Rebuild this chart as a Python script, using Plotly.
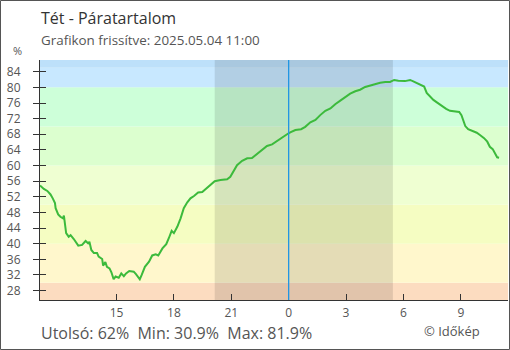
import plotly.graph_objects as go

# ---- data ----
times_prev = ["11:00","11:12","11:23","11:33","11:40","11:47","11:49","11:57","12:04","12:12",
              "12:15","12:18","12:22","12:30","12:36","12:46","13:00","13:12","13:23","13:31",
              "13:35","13:41","13:49","13:59","14:04","14:15","14:18","14:25","14:30","14:38",
              "14:44","14:51","14:57","15:07","15:15","15:23","15:30","15:40","15:54","16:01",
              "16:09","16:13","16:19","16:29","16:42","16:52","17:03","17:11","17:24","17:36",
              "17:44","17:53","18:00","18:11","18:21","18:31","18:42","18:52","19:03","19:16",
              "19:29","19:41","19:55","20:08","20:26","20:47","20:57","21:08","21:18","21:34",
              "21:50","22:05","22:21","22:37","22:52","23:08","23:24","23:39","23:55"]
hum_prev = [54.9,54.0,53.5,52.6,51.6,50.4,49.1,47.5,46.9,46.5,
            47.2,45.2,42.7,41.8,42.2,41.2,39.5,39.7,40.7,40.1,
            40.5,38.4,37.6,37.6,36.7,36.1,34.4,35.3,34.1,33.7,
            32.7,30.9,31.6,31.3,32.4,31.7,32.4,33.0,32.85,32.2,
            31.3,30.9,32.0,34.1,35.4,37.0,37.3,37.0,38.8,39.9,
            41.4,43.3,42.7,44.4,46.5,49.1,50.6,51.6,52.2,53.1,
            53.2,54.0,55.0,56.0,56.3,56.5,57.1,58.8,60.1,61.2,
            61.85,61.9,63.0,64.0,65.0,65.4,66.35,67.2,68.0]
times_next = ["00:05","00:21","00:39","00:52","01:08","01:24","01:39","01:55","02:11","02:26",
              "02:42","02:58","03:13","03:29","03:44","04:00","04:16","04:31","04:47","05:03",
              "05:18","05:31","05:44","06:05","06:21","06:31","06:47","06:52","07:05","07:13",
              "07:24","07:34","07:46","08:00","08:14","08:26","08:42","08:55","09:02","09:08",
              "09:14","09:23","09:37","09:50","10:00","10:13","10:23","10:31","10:40","10:47",
              "10:54","11:00"]
hum_next = [68.5,69.1,69.3,69.9,71.05,71.65,72.9,74.0,74.6,75.7,
            76.6,77.5,78.4,79.0,79.4,80.1,80.5,80.8,81.2,81.4,
            81.4,81.9,81.7,81.6,81.9,81.55,80.9,80.6,80.2,78.6,
            77.6,76.8,76.1,75.2,74.5,74.0,73.9,73.7,72.9,71.65,
            70.1,69.3,68.8,68.4,67.8,67.0,66.1,64.8,64.2,63.1,
            62.1,62.0]

day1, day2 = "2025-05-03", "2025-05-04"
times = [f"{day1} {t}" for t in times_prev] + [f"{day2} {t}" for t in times_next]
humidity = hum_prev + hum_next

tick_vals = [f"{day1} 15:00", f"{day1} 18:00", f"{day1} 21:00", f"{day2} 00:00",
             f"{day2} 03:00", f"{day2} 06:00", f"{day2} 09:00"]
tick_text = ["15", "18", "21", "0", "3", "6", "9"]
y_ticks = list(range(28, 85, 4))

band_edges = [20, 30, 40, 50, 60, 70, 80, 85, 95]
band_colors = ["#fcdcc0", "#fff7cc", "#f5fdc2", "#efffd2", "#dcffcf", "#cdffd9", "#c8e8ff", "#bde0fa"]

night_start, night_end = f"{day1} 20:08", f"{day2} 05:27"
midnight = f"{day2} 00:00"
x_range = [f"{day1} 11:00", f"{day2} 11:28"]
y_range = [25.6, 87]

title = "Tét - Páratartalom"
subtitle = "Grafikon frissítve: 2025.05.04 11:00"
footer = "Utolsó: 62%  Min: 30.9%  Max: 81.9%"
credit = "© Időkép"

# ---- layout geometry ----
W, H = 510, 350
ML, MR, MT, MB = 40, 2, 60, 50
PW, PH = W - ML - MR, H - MT - MB

def px(x):
    return (x - ML) / PW

def py(y):
    return (H - MB - y) / PH

FONT = "Open Sans"

fig = go.Figure()
fig.add_trace(go.Scatter(x=times, y=humidity, mode="lines",
                         line=dict(color="#3cba3c", width=2), hoverinfo="skip",
                         showlegend=False))
fig.add_trace(go.Scatter(x=[times[0]], y=[humidity[0]], yaxis="y2", mode="markers",
                         marker=dict(opacity=0), showlegend=False, hoverinfo="skip"))

shapes = []
for i, c in enumerate(band_colors):
    shapes.append(dict(type="rect", xref="paper", yref="y", x0=0, x1=1,
                       y0=band_edges[i], y1=band_edges[i + 1], fillcolor=c,
                       line=dict(width=0), layer="below"))
shapes.append(dict(type="rect", xref="x", yref="paper", x0=night_start, x1=night_end,
                   y0=0, y1=1, fillcolor="rgba(0,0,0,0.105)", line=dict(width=0), layer="below"))
shapes.append(dict(type="line", xref="x", yref="paper", x0=midnight, x1=midnight,
                   y0=0, y1=1, line=dict(color="#2196e3", width=1.3), layer="above"))
# outer frame of the image
shapes.append(dict(type="rect", xref="paper", yref="paper",
                   x0=px(0.5), x1=px(W - 0.5), y0=py(H - 0.5), y1=py(0.5),
                   line=dict(color="#555555", width=1), fillcolor="rgba(0,0,0,0)", layer="above"))

annotations = [
    dict(text=title, xref="paper", yref="paper", x=px(39), y=py(18), xanchor="left",
         yanchor="middle", showarrow=False, font=dict(family=FONT, size=16, color="#333333")),
    dict(text=subtitle, xref="paper", yref="paper", x=px(39), y=py(40), xanchor="left",
         yanchor="middle", showarrow=False, font=dict(family=FONT, size=13.4, color="#555555")),
    dict(text="%", xref="paper", yref="paper", x=px(17), y=py(51), xanchor="center",
         yanchor="middle", showarrow=False, font=dict(family=FONT, size=11, color="#555555")),
    dict(text=footer, xref="paper", yref="paper", x=px(39), y=py(333), xanchor="left",
         yanchor="middle", showarrow=False, font=dict(family=FONT, size=16, color="#555555")),
    dict(text=credit, xref="paper", yref="paper", x=px(482), y=py(331), xanchor="right",
         yanchor="middle", showarrow=False, font=dict(family=FONT, size=13, color="#555555")),
]

fig.update_layout(
    width=W, height=H, margin=dict(l=ML, r=MR, t=MT, b=MB, autoexpand=False),
    paper_bgcolor="white", plot_bgcolor="white",
    font=dict(family=FONT, size=12, color="#555555"),
    shapes=shapes, annotations=annotations, showlegend=False,
    xaxis=dict(type="date", range=x_range, tickvals=tick_vals, ticktext=tick_text,
               ticks="inside", ticklen=6, tickcolor="#333333", showgrid=False,
               zeroline=False, showline=True, linecolor="#333333", linewidth=1,
               automargin=False,
               tickfont=dict(family=FONT, size=12, color="#555555"), ticklabelstandoff=2),
    yaxis=dict(range=y_range, tickvals=y_ticks, ticks="outside", ticklen=6,
               tickcolor="#333333", showgrid=False, zeroline=False, showline=True,
               linecolor="#333333", linewidth=1, automargin=False,
               tickfont=dict(family=FONT, size=12, color="#555555"), ticklabelstandoff=10),
    yaxis2=dict(range=y_range, tickvals=y_ticks, ticks="inside", ticklen=6,
                tickcolor="#333333", overlaying="y", side="left", showticklabels=False,
                showgrid=False, zeroline=False, showline=False, automargin=False),
)

fig.write_html("out.html")
